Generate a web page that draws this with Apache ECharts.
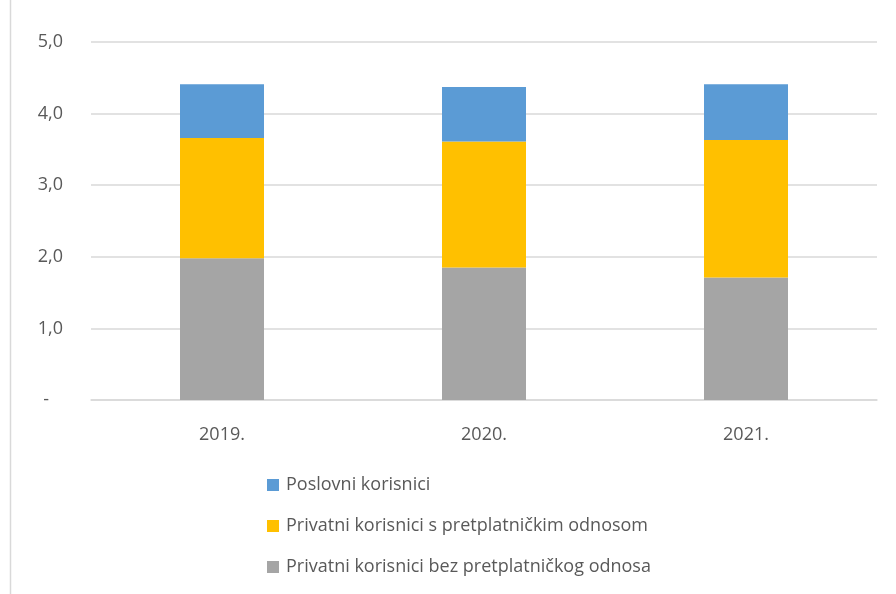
<!DOCTYPE html>
<html>
<head>
<meta charset="utf-8">
<script src="https://cdn.jsdelivr.net/npm/echarts@6/dist/echarts.min.js"></script>
<style>
  html, body { margin: 0; padding: 0; background: #fff; }
  #chart { width: 896px; height: 594px; }
</style>
</head>
<body>
<div id="chart"></div>
<script>
// godine
const categories = ['2019.', '2020.', '2021.']
// nazivi serija
const seriesNames = [
  'Privatni korisnici bez pretplatničkog odnosa',
  'Privatni korisnici s pretplatničkim odnosom',
  'Poslovni korisnici',
]
// vrijednosti (redom od dna stupca prema vrhu)
const bezPretplate = [1.98, 1.85, 1.71]
const sPretplatom = [1.68, 1.76, 1.92]
const poslovni = [0.75, 0.76, 0.78]
const yTicks = [0, 1, 2, 3, 4, 5]

const colors = ['#A5A5A5', '#FFC000', '#5B9BD5']
const values = [bezPretplate, sPretplatom, poslovni]
const fontFamily = 'Open Sans, sans-serif'

const chart = echarts.init(document.getElementById('chart'))

chart.setOption({
  animation: false,
  textStyle: { fontFamily },
  grid: {
    left: 91,
    right: 19,
    top: 42,
    bottom: 194,
  },
  // lijevi rub okvira
  graphic: [
    {
      type: 'line',
      shape: { x1: 10.5, y1: 0, x2: 10.5, y2: 594 },
      style: { stroke: '#d9d9d9', lineWidth: 1.5 },
    },
  ],
  legend: {
    orient: 'vertical',
    left: 262,
    top: 471,
    icon: 'rect',
    itemWidth: 12,
    itemHeight: 12,
    itemGap: 23,
    data: [seriesNames[2], seriesNames[1], seriesNames[0]],
    textStyle: { color: '#595959', fontSize: 18, fontFamily, padding: [0, 0, 0, 2] },
  },
  xAxis: {
    type: 'category',
    data: categories,
    axisLine: { lineStyle: { color: '#d9d9d9', width: 1.5 } },
    axisTick: { show: false },
    axisLabel: { color: '#595959', fontSize: 18, margin: 26 },
  },
  yAxis: {
    type: 'value',
    min: yTicks[0],
    max: yTicks[yTicks.length - 1],
    interval: 1,
    axisLine: { show: false },
    axisTick: { show: false },
    splitLine: { lineStyle: { color: '#d9d9d9', width: 1.5 } },
    axisLabel: {
      color: '#595959',
      fontSize: 18,
      margin: 28,
      formatter: v => (v === 0 ? '-   ' : v.toFixed(1).replace('.', ',')),
    },
  },
  series: values.map((data, i) => ({
    name: seriesNames[i],
    type: 'bar',
    stack: 'ukupno',
    data,
    barWidth: 84,
    itemStyle: { color: colors[i] },
  })),
})
</script>
</body>
</html>
